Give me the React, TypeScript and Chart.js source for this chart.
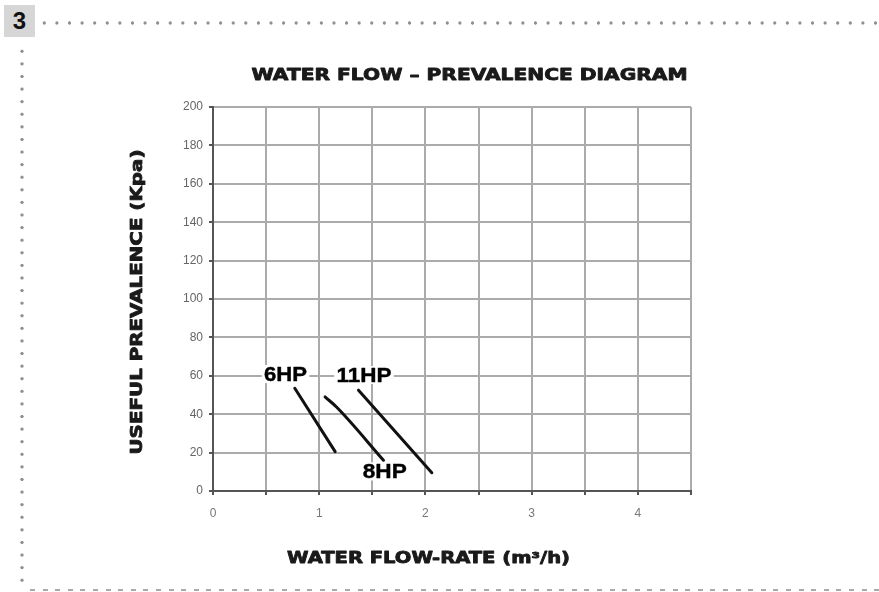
import React, { useEffect, useRef } from "react";
import { Chart, registerables } from "chart.js";

Chart.register(...registerables);

// ---- data ----
const chartTitle = "WATER FLOW – PREVALENCE DIAGRAM";
const xAxisTitle = "WATER FLOW-RATE (m³/h)";
const yAxisTitle = "USEFUL PREVALENCE (Kpa)";
const sectionNumber = "3";

const xMin = 0;
const xMax = 4.5;
const xStep = 0.5;
const yMin = 0;
const yMax = 200;
const yStep = 20;

const seriesNames = ["6HP", "8HP", "11HP"];
const hp6X = [0.77, 1.15];
const hp6Y = [53.5, 20.5];
const hp8X = [1.055, 1.165, 1.605];
const hp8Y = [49, 43.6, 16];
const hp11X = [1.37, 2.06];
const hp11Y = [52.5, 9.5];

const labelX = [0.683, 1.617, 1.421];
const labelY = [60.9, 10.2, 60.4];
const labelWidths = [43, 44, 55];

const toPoints = (xs: number[], ys: number[]) => xs.map((x, i) => ({ x, y: ys[i] }));

function drawFit(
  ctx: CanvasRenderingContext2D,
  text: string,
  cx: number,
  cy: number,
  targetW: number,
  font: string,
  color: string,
  rotate = false,
  bg: string | null = null,
  stroke = 0
) {
  ctx.save();
  ctx.font = font;
  const w = ctx.measureText(text).width;
  ctx.translate(cx, cy);
  if (rotate) ctx.rotate(-Math.PI / 2);
  ctx.scale(targetW / w, 1);
  ctx.textAlign = "center";
  ctx.textBaseline = "middle";
  if (bg) {
    ctx.fillStyle = bg;
    ctx.fillRect(-w / 2 - 2, -9, w + 4, 18);
  }
  ctx.fillStyle = color;
  ctx.fillText(text, 0, 1);
  if (stroke > 0) {
    ctx.strokeStyle = color;
    ctx.lineWidth = stroke;
    ctx.lineJoin = "round";
    ctx.strokeText(text, 0, 1);
  }
  ctx.restore();
}

const textPlugin = {
  id: "textPlugin",
  afterDatasetsDraw(chart: any) {
    const ctx = chart.ctx as CanvasRenderingContext2D;
    const xs = chart.scales.x;
    const ys = chart.scales.y;
    seriesNames.forEach((name, i) => {
      drawFit(
        ctx,
        name,
        xs.getPixelForValue(labelX[i]),
        ys.getPixelForValue(labelY[i]),
        labelWidths[i],
        'bold 20px "Liberation Sans"',
        "#000",
        false,
        "#fff",
        0.4
      );
    });
  },
  afterDraw(chart: any) {
    const ctx = chart.ctx as CanvasRenderingContext2D;
    drawFit(ctx, chartTitle, 469.5, 75, 436, 'bold 15px "DejaVu Sans"', "#1a1a1a", false, null, 0.8);
    drawFit(ctx, xAxisTitle, 428.5, 558, 283, 'bold 15px "DejaVu Sans"', "#1a1a1a", false, null, 0.8);
    drawFit(ctx, yAxisTitle, 137, 302, 305, 'bold 15px "DejaVu Sans"', "#1a1a1a", true, null, 0.8);
  },
};

export default function App() {
  const ref = useRef<HTMLCanvasElement>(null);

  useEffect(() => {
    if (!ref.current) return;
    const lineStyle = {
      borderColor: "#111",
      borderWidth: 3,
      pointRadius: 0,
      showLine: true,
      fill: false,
      tension: 0,
      borderCapStyle: "round" as const,
    };
    const chart = new Chart(ref.current, {
      type: "scatter",
      data: {
        datasets: [
          { label: seriesNames[0], data: toPoints(hp6X, hp6Y), ...lineStyle },
          {
            label: seriesNames[1],
            data: toPoints(hp8X, hp8Y),
            ...lineStyle,
            tension: 0.4,
            cubicInterpolationMode: "monotone" as const,
          },
          { label: seriesNames[2], data: toPoints(hp11X, hp11Y), ...lineStyle },
        ],
      },
      options: {
        animation: false,
        responsive: false,
        devicePixelRatio: 1,
        layout: { padding: { left: 153, right: 188, top: 107, bottom: 61 } },
        plugins: {
          legend: { display: false },
          tooltip: { enabled: false },
          title: { display: false },
        },
        scales: {
          x: {
            type: "linear",
            min: xMin,
            max: xMax,
            afterFit: (s: any) => {
              s.height = 40;
            },
            ticks: {
              stepSize: xStep,
              autoSkip: false,
              maxRotation: 0,
              padding: 11,
              color: "#777",
              font: { family: "Liberation Sans", size: 12 },
              callback: (v: any) => (Number(v) % 1 === 0 ? String(v) : ""),
            },
            grid: {
              color: "#ababab",
              lineWidth: 2,
              tickColor: "#555",
              tickLength: 4,
              tickWidth: 2,
            },
            border: { display: true, color: "#555", width: 2 },
          },
          y: {
            type: "linear",
            min: yMin,
            max: yMax,
            afterFit: (s: any) => {
              s.width = 60;
            },
            ticks: {
              stepSize: yStep,
              padding: 6,
              color: "#666",
              font: { family: "Liberation Sans", size: 12 },
            },
            grid: {
              color: "#ababab",
              lineWidth: 2,
              tickColor: "#555",
              tickLength: 4,
              tickWidth: 2,
            },
            border: { display: true, color: "#555", width: 2 },
          },
        },
      },
      plugins: [textPlugin],
    });
    return () => chart.destroy();
  }, []);

  return (
    <div
      style={{
        position: "fixed",
        left: 0,
        top: 0,
        width: 879,
        height: 592,
        background: "#fff",
        overflow: "hidden",
      }}
    >
      <div
        style={{
          position: "absolute",
          left: 4,
          top: 5,
          width: 31,
          height: 32,
          background: "#d6d6d6",
          fontFamily: '"Liberation Sans", Arial, sans-serif',
          fontWeight: "bold",
          fontSize: 24,
          lineHeight: "32px",
          textAlign: "center",
          color: "#111",
        }}
      >
        {sectionNumber}
      </div>
      <div
        style={{
          position: "absolute",
          left: 38,
          top: 21,
          width: 841,
          height: 4,
          backgroundImage: "radial-gradient(circle, #8f8f8f 1.4px, transparent 1.9px)",
          backgroundSize: "12.6px 4px",
          backgroundRepeat: "repeat-x",
        }}
      />
      <div
        style={{
          position: "absolute",
          left: 20,
          top: 45,
          width: 4,
          height: 540,
          backgroundImage: "radial-gradient(circle, #8f8f8f 1.4px, transparent 1.9px)",
          backgroundSize: "4px 12.6px",
          backgroundRepeat: "repeat-y",
        }}
      />
      <div
        style={{
          position: "absolute",
          left: 30,
          top: 589,
          width: 849,
          height: 2,
          backgroundImage:
            "repeating-linear-gradient(to right, #aaa 0px, #aaa 5px, transparent 5px, transparent 12.6px)",
        }}
      />
      <canvas
        ref={ref}
        width={879}
        height={592}
        style={{ position: "absolute", left: 0, top: 0, width: 879, height: 592 }}
      />
    </div>
  );
}
